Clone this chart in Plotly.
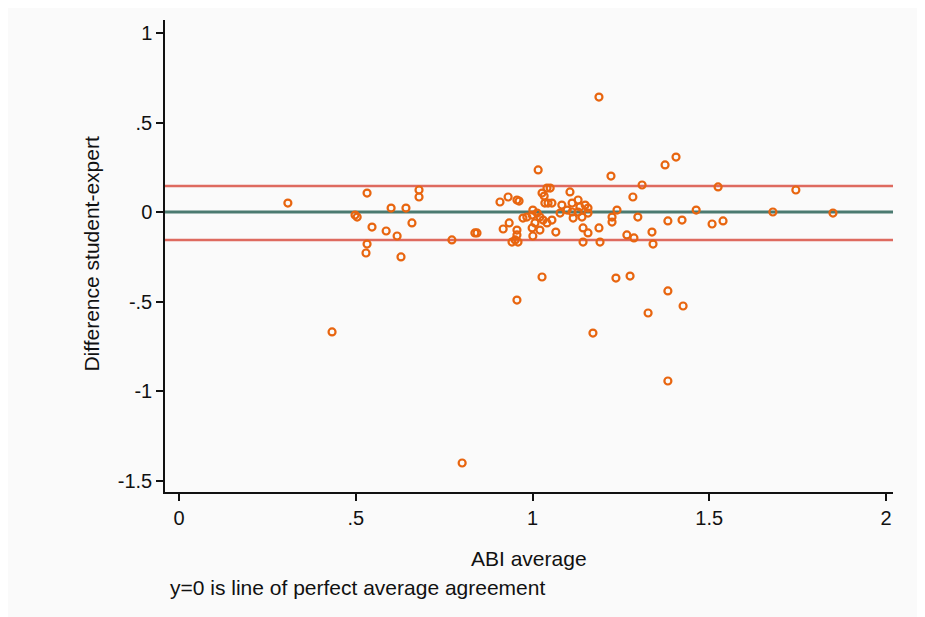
import plotly.graph_objects as go

# ABI average (x) and difference student-expert (y)
abi_average = [
    0.308, 0.498, 0.504, 0.532, 0.546, 0.586, 0.600, 0.617, 0.628, 0.642,
    0.659, 0.679, 0.679, 0.532, 0.529, 0.772, 0.433, 0.801,
    0.837, 0.843, 0.908, 0.931, 0.956, 0.962, 0.917, 0.934, 0.956, 0.956,
    0.951, 0.942, 0.959, 0.956,
    0.973, 0.984, 0.999, 1.001, 1.013, 1.021, 0.999, 1.007, 1.021, 1.001,
    1.030, 1.016, 1.027, 1.033, 1.035, 1.041, 1.050, 1.044, 1.055, 1.066,
    1.055, 1.041, 1.027, 1.083, 1.078, 1.098, 1.106, 1.112, 1.129, 1.134,
    1.149, 1.157, 1.129, 1.112, 1.115, 1.140, 1.157, 1.143, 1.157, 1.143,
    1.191, 1.188, 1.171, 1.188, 1.222, 1.225, 1.225, 1.239, 1.236, 1.284,
    1.310, 1.298, 1.267, 1.287, 1.276, 1.327, 1.338, 1.341, 1.375, 1.406,
    1.383, 1.423, 1.383, 1.426, 1.383, 1.463, 1.508, 1.525, 1.539, 1.680,
    1.745, 1.850,
]
difference = [
    0.050, -0.017, -0.028, 0.106, -0.084, -0.106, 0.022, -0.134, -0.251, 0.022,
    -0.061, 0.123, 0.084, -0.179, -0.229, -0.156, -0.670, -1.402,
    -0.117, -0.117, 0.056, 0.084, 0.067, 0.061, -0.095, -0.061, -0.101, -0.128,
    -0.156, -0.168, -0.168, -0.492,
    -0.034, -0.028, -0.017, 0.011, -0.006, -0.028, -0.089, -0.061, -0.101, -0.134,
    -0.045, 0.235, 0.106, 0.089, 0.050, 0.134, 0.134, 0.050, 0.050, -0.112,
    -0.045, -0.061, -0.363, 0.039, -0.006, 0.011, 0.112, 0.050, 0.067, 0.028,
    0.039, 0.022, 0.000, 0.000, -0.034, -0.028, -0.006, -0.089, -0.117, -0.168,
    -0.168, -0.089, -0.676, 0.642, 0.201, -0.028, -0.056, 0.011, -0.369, 0.084,
    0.151, -0.028, -0.128, -0.145, -0.358, -0.564, -0.112, -0.179, 0.263, 0.307,
    -0.050, -0.045, -0.441, -0.525, -0.944, 0.011, -0.067, 0.140, -0.050, 0.000,
    0.123, -0.006,
]

upper_limit = 0.145
lower_limit = -0.156
mean_line = 0.0

x_ticks = [0, 0.5, 1, 1.5, 2]
x_tick_labels = ["0", ".5", "1", "1.5", "2"]
y_ticks = [1, 0.5, 0, -0.5, -1, -1.5]
y_tick_labels = ["1", ".5", "0", "-.5", "-1", "-1.5"]

x_range = [-0.0396, 2.0198]
y_range = [-1.564, 1.0726]

font_family = "Liberation Sans, Arial, sans-serif"

fig = go.Figure()

for yv, col, w in [(upper_limit, "#de6a5f", 2.5), (lower_limit, "#de6a5f", 2.5), (mean_line, "#4b7a70", 3)]:
    fig.add_trace(go.Scatter(
        x=x_range, y=[yv, yv], mode="lines",
        line=dict(color=col, width=w), hoverinfo="skip", showlegend=False,
    ))

fig.add_trace(go.Scatter(
    x=abi_average, y=difference, mode="markers",
    marker=dict(symbol="circle-open", size=7, color="#e8650f", line=dict(width=2.2)),
    showlegend=False,
))

fig.update_layout(
    width=925, height=617,
    margin=dict(l=157, r=40, t=12, b=133),
    paper_bgcolor="#fafafa", plot_bgcolor="#fafafa",
    font=dict(family=font_family, size=20, color="#111111"),
    showlegend=False,
    annotations=[
        dict(text="ABI average", xref="paper", yref="paper", x=0.5, y=-0.14,
             xanchor="center", yanchor="middle", showarrow=False,
             font=dict(size=21)),
        dict(text="y=0 is line of perfect average agreement", xref="paper", yref="paper",
             x=0.004, y=-0.203, xanchor="left", yanchor="middle", showarrow=False,
             font=dict(size=21)),
        dict(text="Difference student-expert", xref="paper", yref="paper",
             x=-0.1003, y=0.505, xanchor="center", yanchor="middle", showarrow=False,
             textangle=-90, font=dict(size=21)),
    ],
)

fig.update_xaxes(
    range=x_range, tickvals=x_ticks, ticktext=x_tick_labels,
    showgrid=False, zeroline=False, showline=True, linecolor="#111111", linewidth=1.5,
    ticks="outside", ticklen=7, tickwidth=1.5, tickcolor="#111111",
)
fig.update_yaxes(
    range=y_range, tickvals=y_ticks, ticktext=y_tick_labels,
    showgrid=False, zeroline=False, showline=True, linecolor="#111111", linewidth=1.5,
    ticks="outside", ticklen=7, tickwidth=1.5, tickcolor="#111111",
)

fig.write_html("out.html")
